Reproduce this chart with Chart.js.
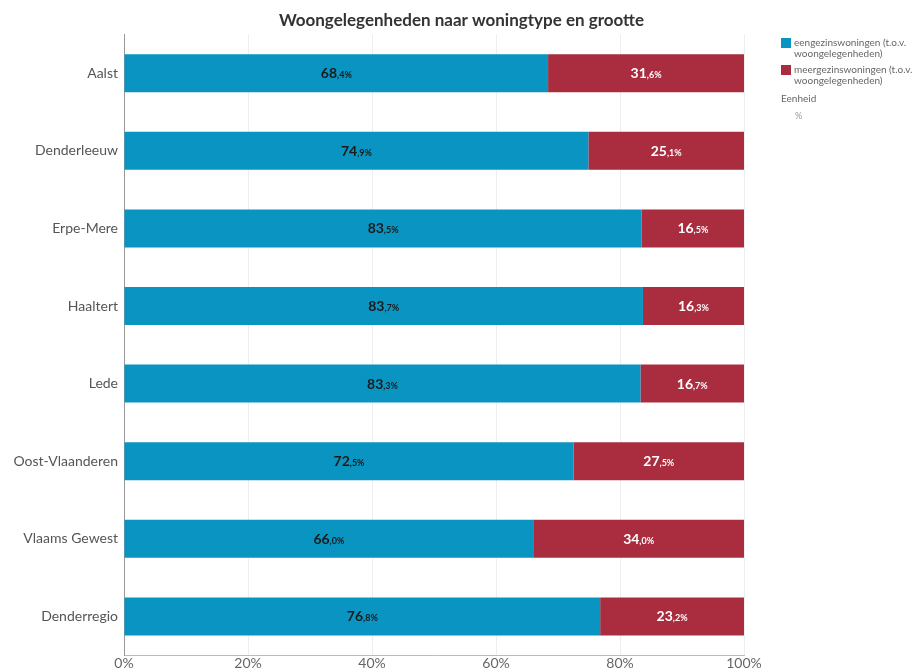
<!DOCTYPE html>
<html>
<head>
<meta charset="utf-8">
<script src="https://cdn.jsdelivr.net/npm/chart.js@4/dist/chart.umd.min.js"></script>
<style>
  body { margin: 0; background: #fff; font-family: Lato, sans-serif; }
  #wrap { position: relative; width: 923px; height: 672px; }
  #legend { position: absolute; left: 781px; top: 37px; font-size: 10px; color: #666; line-height: 11px; }
  .item { display: flex; align-items: flex-start; margin-bottom: 5px; }
  .box { width: 10px; height: 10px; margin-right: 3px; margin-top: 1px; flex: none; }
</style>
</head>
<body>
<div id="wrap">
  <canvas id="woningtype" width="923" height="672"></canvas>
  <div id="legend">
    <div class="item"><span class="box" style="background:#0994c1"></span><span>eengezinswoningen (t.o.v.<br>woongelegenheden)</span></div>
    <div class="item"><span class="box" style="background:#a92d3e"></span><span>meergezinswoningen (t.o.v.<br>woongelegenheden)</span></div>
    <div style="margin-top:7px">Eenheid</div>
    <div style="margin-top:6px;margin-left:14px;color:#999;font-size:9px">%</div>
  </div>
</div>
<script>
var gemeenten = ["Aalst","Denderleeuw","Erpe-Mere","Haaltert","Lede","Oost-Vlaanderen","Vlaams Gewest","Denderregio"];
var eengezins = [68.4, 74.9, 83.5, 83.7, 83.3, 72.5, 66.0, 76.8];
var meergezins = [31.6, 25.1, 16.5, 16.3, 16.7, 27.5, 34.0, 23.2];
var xTicks = [0, 20, 40, 60, 80, 100];

// labels like 68,4% with smaller decimal part
var barLabels = {
  id: 'barLabels',
  afterDatasetsDraw: function(chart) {
    var ctx = chart.ctx;
    chart.data.datasets.forEach(function(ds, i) {
      var meta = chart.getDatasetMeta(i);
      meta.data.forEach(function(bar, j) {
        var parts = ds.data[j].toFixed(1).split('.');
        var big = parts[0], small = ',' + parts[1] + '%';
        ctx.save();
        ctx.font = 'bold 14px Lato';
        var w1 = ctx.measureText(big).width;
        ctx.font = 'bold 9px Lato';
        var w2 = ctx.measureText(small).width;
        var cx = (bar.x + bar.base) / 2;
        var x0 = cx - (w1 + w2) / 2;
        ctx.fillStyle = i === 0 ? '#1a1a1a' : '#ffffff';
        ctx.textBaseline = 'alphabetic';
        ctx.font = 'bold 14px Lato';
        ctx.fillText(big, x0, bar.y + 5);
        ctx.font = 'bold 9px Lato';
        ctx.fillText(small, x0 + w1, bar.y + 5);
        ctx.restore();
      });
    });
  }
};

var ctx = document.getElementById('woningtype');

var myChart = new Chart(ctx, {
  type: 'bar',
  data: {
    labels: gemeenten,
    datasets: [
      {
        label: 'eengezinswoningen (t.o.v. woongelegenheden)',
        data: eengezins,
        backgroundColor: '#0994c1',
        barPercentage: 0.49,
        categoryPercentage: 1
      },
      {
        label: 'meergezinswoningen (t.o.v. woongelegenheden)',
        data: meergezins,
        backgroundColor: '#a92d3e',
        barPercentage: 0.49,
        categoryPercentage: 1
      }
    ]
  },
  plugins: [barLabels],
  options: {
    indexAxis: 'y',
    responsive: false,
    animation: false,
    layout: { padding: { left: 0, bottom: 0, top: 10 } },
    plugins: {
      legend: { display: false },
      tooltip: { enabled: false },
      title: {
        display: true,
        text: 'Woongelegenheden naar woningtype en grootte',
        color: '#333',
        font: { family: 'Lato', size: 17, weight: 'bold' },
        padding: { top: 0, bottom: 4 }
      }
    },
    scales: {
      x: {
        stacked: true,
        min: 0,
        max: 100,
        afterBuildTicks: function(scale) {
          scale.ticks = xTicks.map(function(v) { return { value: v }; });
        },
        ticks: {
          color: '#666',
          font: { family: 'Lato', size: 14 },
          padding: 0,
          callback: function(v) { return v + '%'; }
        },
        grid: { color: '#eeeeee', drawTicks: false },
        border: { color: '#bbbbbb' }
      },
      y: {
        stacked: true,
        ticks: {
          color: '#555',
          font: { family: 'Lato', size: 14 },
          padding: 6
        },
        grid: { display: false, drawTicks: false },
        border: { color: '#999999' },
        afterFit: function(scale) { scale.width = 124; }
      },
      spacer: {
        type: 'linear',
        position: 'right',
        axis: 'y',
        display: true,
        ticks: { display: false },
        grid: { display: false },
        border: { display: false },
        afterFit: function(scale) { scale.width = 179; }
      }
    }
  }
});
</script>
</body>
</html>
